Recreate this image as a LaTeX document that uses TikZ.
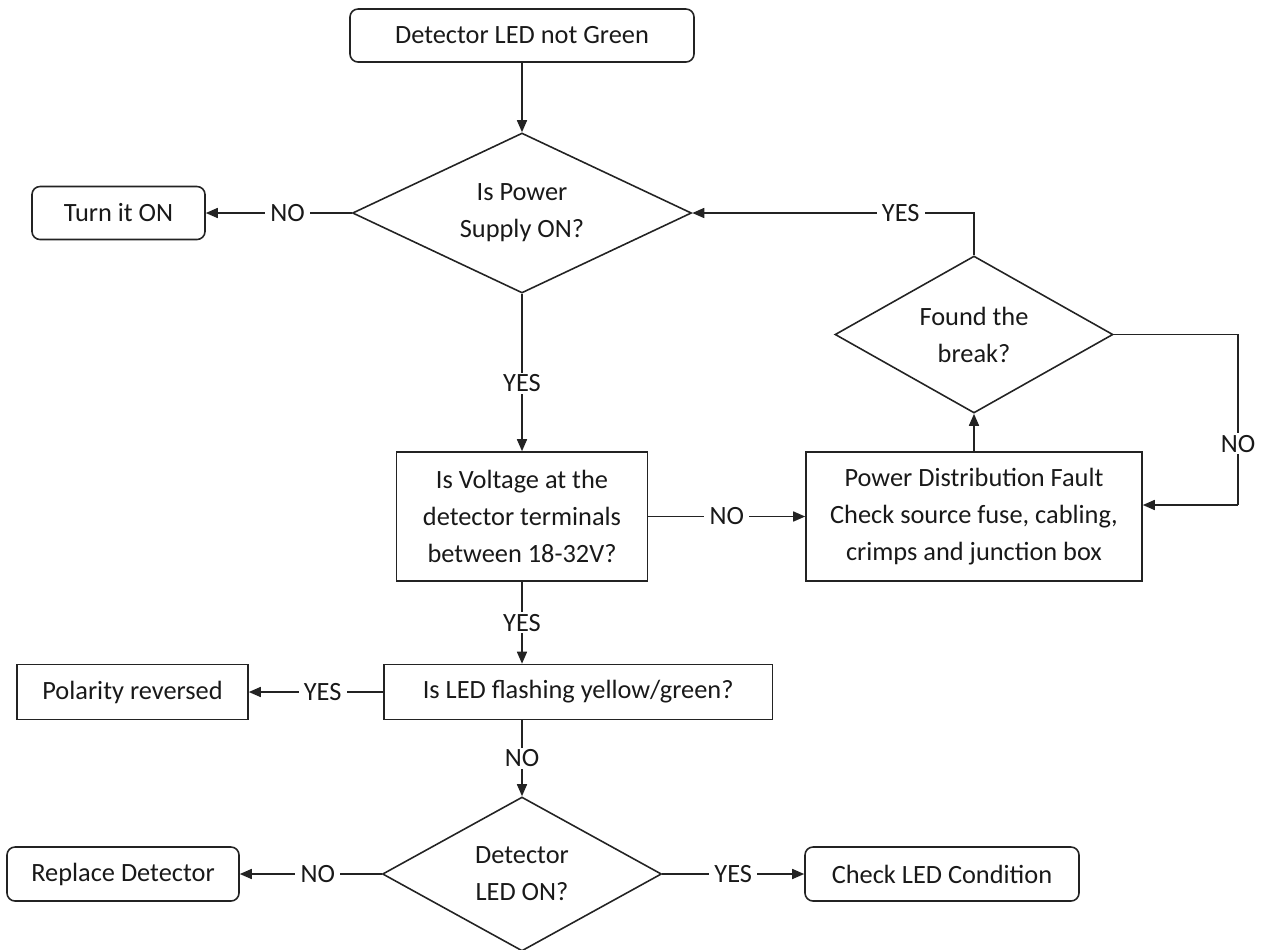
\documentclass[tikz,border=0pt]{standalone}
\usepackage{fontspec}
\setmainfont{Carlito}
\usetikzlibrary{shapes.geometric, arrows.meta, calc}
\definecolor{lineclr}{RGB}{35,35,35}
\definecolor{txtclr}{RGB}{25,25,25}
\tikzset{
  base/.style={draw=lineclr, line width=0.9pt, align=center, text=txtclr,
    font=\fontsize{15pt}{21pt}\selectfont},
  termbox/.style={base, rectangle, rounded corners=0.16cm},
  procbox/.style={base, rectangle},
  decision/.style={base, diamond, inner sep=0pt},
  lbl/.style={fill=white, inner xsep=3pt, inner ysep=1pt, text=txtclr,
    font=\fontsize{15pt}{21pt}\selectfont},
  arr/.style={draw=lineclr, line width=0.9pt, -{Triangle[length=0.24cm,width=0.2cm]}},
  plain/.style={draw=lineclr, line width=0.9pt},
}

\begin{document}
\begin{tikzpicture}
  \useasboundingbox (0,0) rectangle (25.3,-18.98);%
  % main column
  \node[termbox, minimum width=6.88cm, minimum height=1.06cm] (start) at (10.44,-0.71) {Detector LED not Green};%
  \node[decision, minimum width=6.78cm, minimum height=3.20cm, aspect=2.12] (pwrq) at (10.44,-4.26) {Is Power\\Supply ON?};%
  \node[termbox, minimum width=3.46cm, minimum height=1.06cm] (turnon) at (2.37,-4.26) {Turn it ON};%
  \node[procbox, minimum width=5.02cm, minimum height=2.58cm] (voltq) at (10.44,-10.33) {Is Voltage at the\\detector terminals\\between 18-32V?};%
  \node[procbox, minimum height=1.10cm, inner xsep=0.78cm, anchor=west] (ledq) at (7.66,-13.84) {Is LED flashing yellow/green?};%
  \node[procbox, minimum width=4.62cm, minimum height=1.10cm] (polarity) at (2.65,-13.84) {Polarity reversed};%
  \node[decision, minimum width=5.58cm, minimum height=3.08cm, aspect=1.81] (detq) at (10.44,-17.48) {Detector\\LED ON?};%
  \node[termbox, minimum width=4.64cm, minimum height=1.08cm] (replace) at (2.46,-17.48) {Replace Detector};%
  \node[termbox, minimum width=5.48cm, minimum height=1.08cm] (checkled) at (18.84,-17.48) {Check LED Condition};%
  % right loop
  \node[procbox, minimum width=6.72cm, minimum height=2.58cm] (pdfault) at (19.48,-10.33) {Power Distribution Fault\\Check source fuse, cabling,\\crimps and junction box};%
  \node[decision, minimum width=5.56cm, minimum height=3.14cm, aspect=1.77] (breakq) at (19.48,-6.69) {Found the\\break?};%
  \coordinate (nobend) at (24.76,-10.10);%
  %
  \draw[arr] (start.south) -- (pwrq.north);%
  \draw[arr] (pwrq.west) -- node[lbl, pos=0.44] {NO} (turnon.east);%
  \draw[arr] (pwrq.south) -- node[lbl, pos=0.57] {YES} (voltq.north);%
  \draw[arr] (voltq.east) -- node[lbl] {NO} (pdfault.west);%
  \draw[arr] (pdfault.north) -- (breakq.south);%
  \draw[arr] (breakq.north) |- node[lbl, pos=0.63] {YES} (pwrq.east);%
  \draw[plain] (breakq.east) -| node[lbl, pos=0.82] {NO} (nobend);%
  \draw[arr] (nobend) -- (nobend -| pdfault.east);%
  \draw[arr] (voltq.south) -- node[lbl] {YES} (voltq.south |- ledq.north);%
  \draw[arr] (ledq.west) -- node[lbl, pos=0.45] {YES} (polarity.east);%
  \draw[arr] (voltq.south |- ledq.south) -- node[lbl] {NO} (detq.north);%
  \draw[arr] (detq.west) -- node[lbl, pos=0.45] {NO} (replace.east);%
  \draw[arr] (detq.east) -- node[lbl] {YES} (checkled.west);%
\end{tikzpicture}
\end{document}
